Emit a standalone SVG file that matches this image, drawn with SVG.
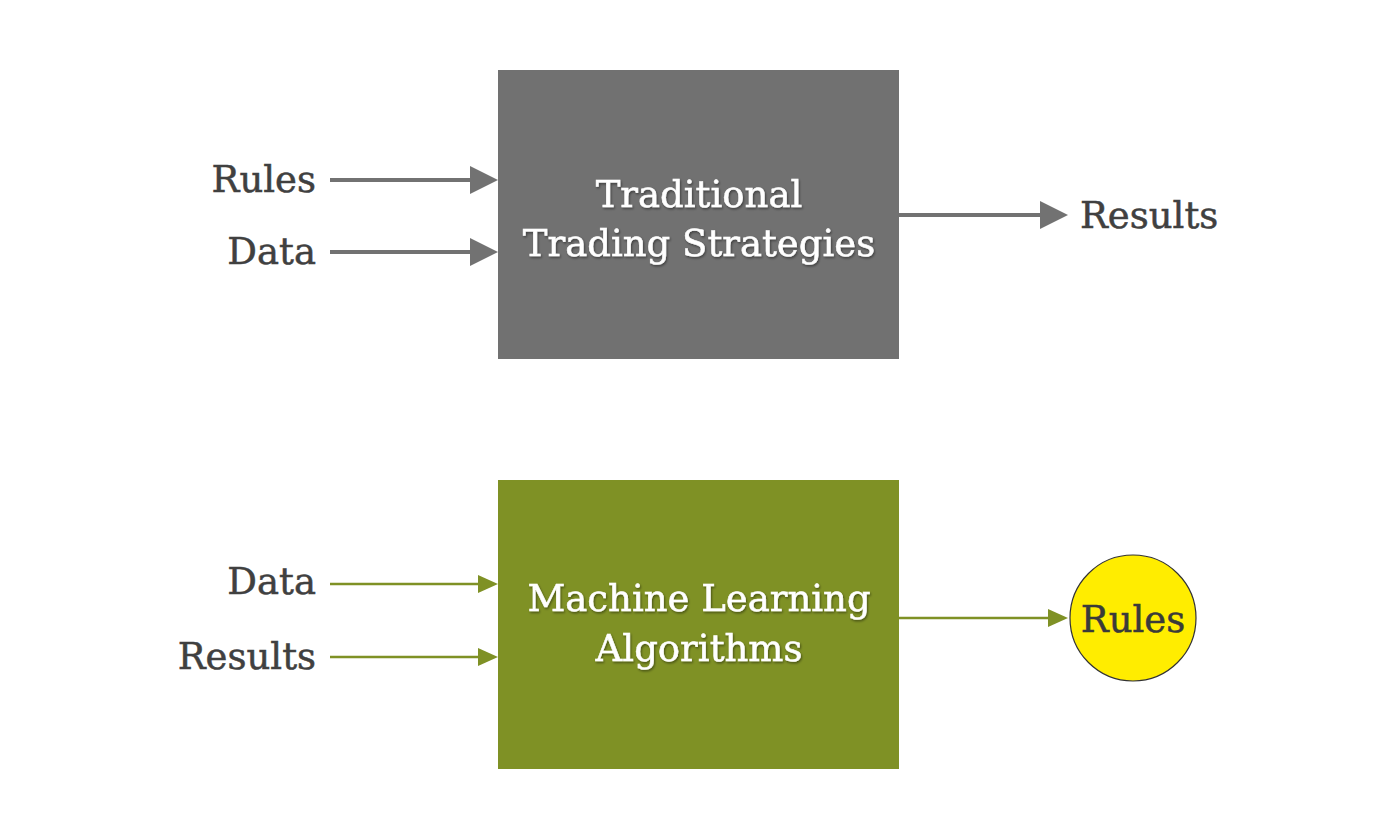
<svg xmlns="http://www.w3.org/2000/svg" width="1400" height="840" viewBox="0 0 1400 840">
<defs>
<style>
.lbl{font-family:"DejaVu Serif","Liberation Serif",serif;font-size:37px;fill:#404040;stroke:#404040;stroke-width:0.5}
.box{font-family:"DejaVu Serif","Liberation Serif",serif;font-size:37px;fill:#ffffff;stroke:#ffffff;stroke-width:0.5;text-anchor:middle;filter:url(#sh)}
.g{stroke:#727272;stroke-width:4;fill:none}
.v{stroke:#7f9125;stroke-width:2.5;fill:none}
</style>
<filter id="sh" x="-10%" y="-30%" width="120%" height="160%">
<feDropShadow dx="1" dy="1.5" stdDeviation="1" flood-color="#000" flood-opacity="0.45"/>
</filter>
</defs>
<rect width="1400" height="840" fill="#ffffff"/>
<g id="traditional">
<rect x="498" y="70" width="401" height="289" fill="#717171"/>
<text class="box" x="699" y="207">Traditional</text>
<text class="box" x="699" y="256">Trading Strategies</text>
</g>
<g id="ml">
<rect x="498" y="480" width="401" height="289" fill="#7f9125"/>
<text class="box" x="699" y="611">Machine Learning</text>
<text class="box" x="699" y="661">Algorithms</text>
</g>
<g id="rules-out">
<circle cx="1133" cy="618" r="63" fill="#ffed00" stroke="#333333" stroke-width="1.2"/>
<text class="lbl" x="1133" y="632" text-anchor="middle" style="fill:#3a3a3a;stroke:#3a3a3a">Rules</text>
</g>
<g id="labels">
<text class="lbl" x="316" y="192" text-anchor="end">Rules</text>
<text class="lbl" x="316" y="264" text-anchor="end">Data</text>
<text class="lbl" x="1080" y="228">Results</text>
<text class="lbl" x="316" y="594" text-anchor="end">Data</text>
<text class="lbl" x="316" y="669" text-anchor="end">Results</text>
</g>
<g id="connectors">
<line class="g" x1="330" y1="180" x2="472" y2="180"/>
<polygon points="470,166 498,180 470,194" fill="#727272"/>
<line class="g" x1="330" y1="252" x2="472" y2="252"/>
<polygon points="470,238 498,252 470,266" fill="#727272"/>
<line class="g" x1="899" y1="215" x2="1042" y2="215"/>
<polygon points="1040,201 1068,215 1040,229" fill="#727272"/>
<line class="v" x1="330" y1="584" x2="480" y2="584"/>
<polygon points="478,575 498,584 478,593" fill="#7f9125"/>
<line class="v" x1="330" y1="657" x2="480" y2="657"/>
<polygon points="478,648 498,657 478,666" fill="#7f9125"/>
<line class="v" x1="899" y1="618" x2="1050" y2="618"/>
<polygon points="1048,609 1068,618 1048,627" fill="#7f9125"/>
</g>
</svg>
